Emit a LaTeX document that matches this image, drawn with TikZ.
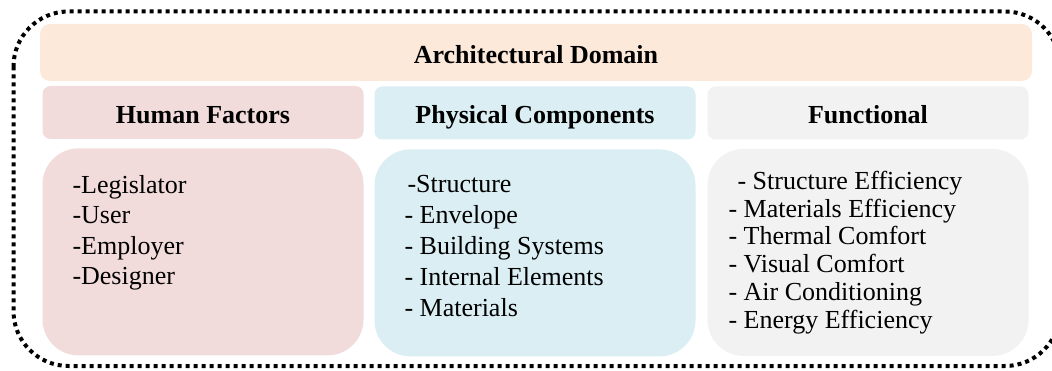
\documentclass[tikz,border=0pt]{standalone}
\usepackage{fontspec}
\setmainfont{Liberation Serif}
\usetikzlibrary{positioning}

\definecolor{peach}{HTML}{FCE9DA}
\definecolor{rosy}{HTML}{F2DCDB}
\definecolor{aqua}{HTML}{DAEEF3}
\definecolor{greyish}{HTML}{F2F2F2}

\tikzset{
	header/.style={rectangle, rounded corners=8pt, inner sep=0pt, minimum width=321pt, minimum height=53pt,
		text height=22pt, text depth=0pt, font=\fontsize{26}{30}\selectfont\bfseries},
	listbox/.style={rectangle, rounded corners=36pt, inner sep=0pt, minimum width=321pt, minimum height=207pt},
	listtext/.style={anchor=north west, inner sep=0pt, align=left, font=\fontsize{26}{#1}\selectfont},
}

\begin{document}
\begin{tikzpicture}[x=1pt, y=-1pt]
	\useasboundingbox (0,0) rectangle (1052,371);
	% dotted frame round the whole domain
	\draw [line width=4pt, dash pattern=on 4pt off 4pt, rounded corners=55pt] (13.5,11.5) rectangle (1060,366);

	\node [header, fill=peach, minimum width=992pt, minimum height=57pt, rounded corners=10pt] (domain) at (536,52.5) {Architectural Domain};
	\node [header, fill=rosy] 		(human) 		at (203,112.5) 	{Human Factors};
	\node [header, fill=aqua] 		(physical) 		at (535,113) 	{Physical Components};
	\node [header, fill=greyish] 	(functional) 	at (868,113) 	{Functional};

	\node [listbox, fill=rosy, 		below=9pt of human] 		(humanlist) 		{};
	\node [listbox, fill=aqua, 		below=9.5pt of physical] 	(physicallist) 		{};
	\node [listbox, fill=greyish, 	below=9pt of functional] 	(functionallist) 	{};

	\node [listtext=30.3] (humanitems) at ([xshift=30pt, yshift=-27pt]humanlist.north west)
		{-Legislator\\-User\\-Employer\\-Designer};
	\node [listtext=31] (physicalitems) at ([xshift=30pt, yshift=-26pt]physicallist.north west)
		{\hspace{3pt}-Structure\\- Envelope\\- Building Systems\\- Internal Elements\\- Materials};
	\node [listtext=27.8] (functionalitems) at ([xshift=21pt, yshift=-22pt]functionallist.north west)
		{\hspace{9pt}- Structure Efficiency\\- Materials Efficiency\\- Thermal Comfort\\- Visual Comfort\\- Air Conditioning\\- Energy Efficiency};
\end{tikzpicture}
\end{document}
